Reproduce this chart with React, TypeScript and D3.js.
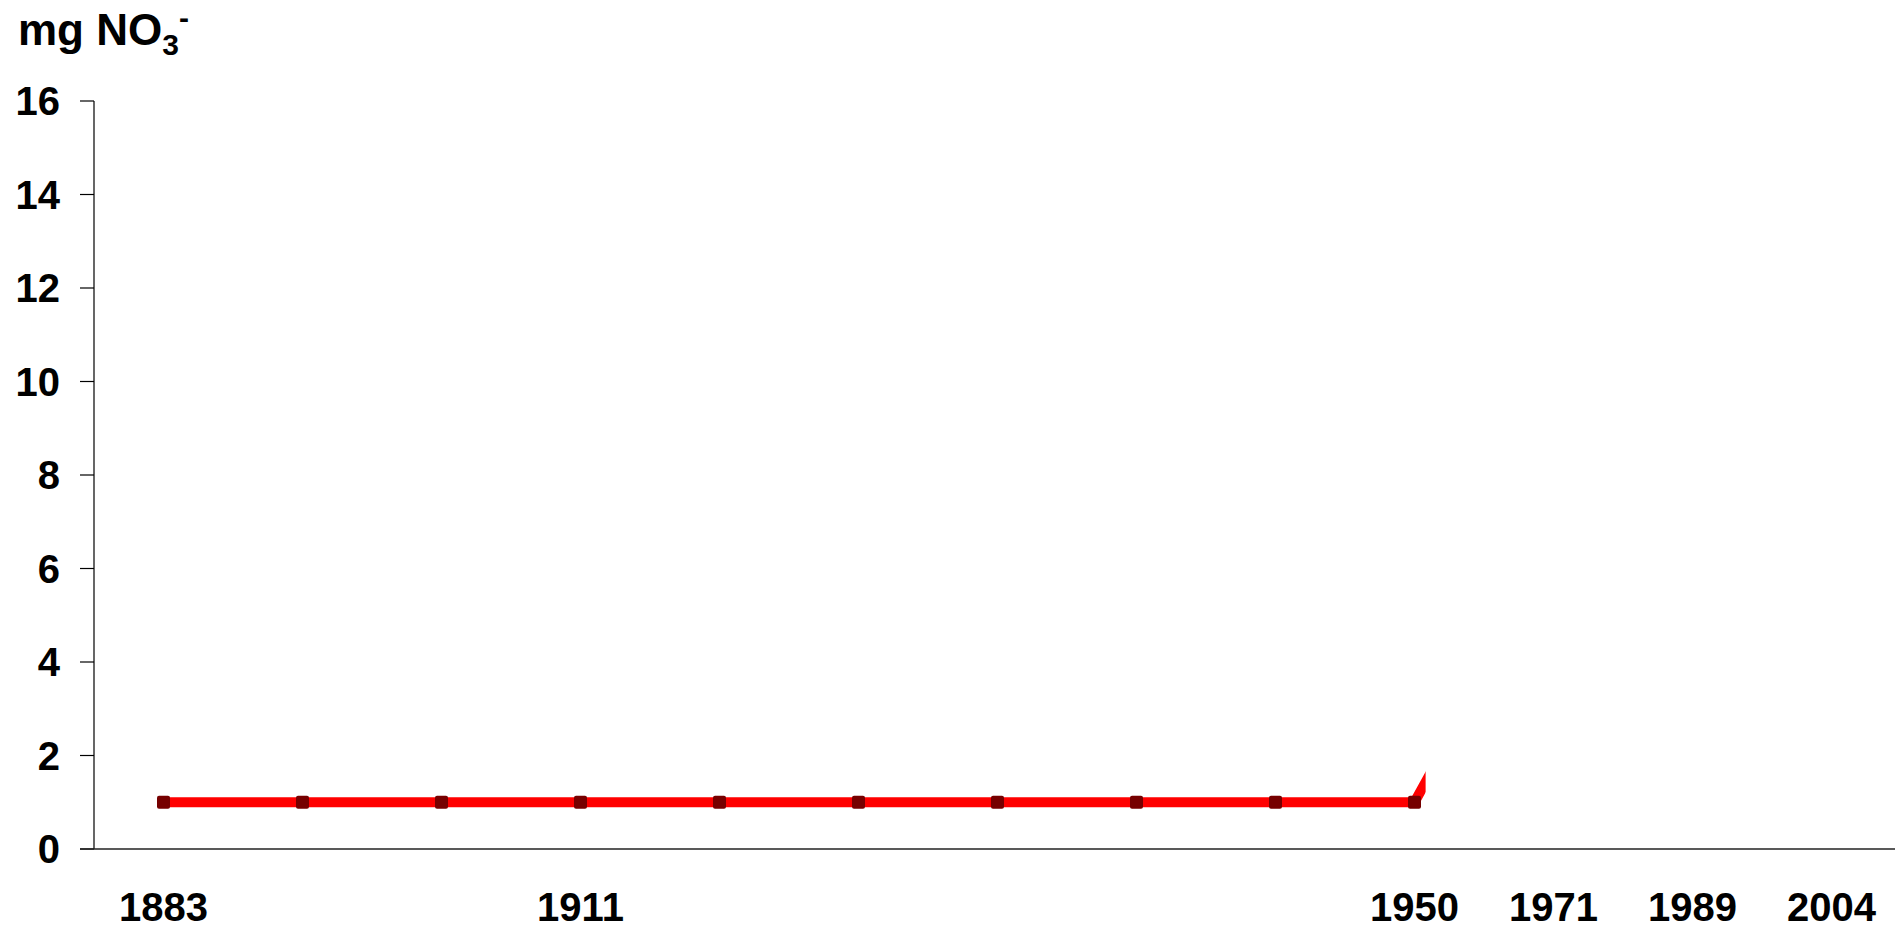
import React from 'react';
import * as d3 from 'd3';

// x categories (blank = unlabelled category)
const categoryLabels = ['1883', '', '', '1911', '', '', '', '', '', '1950', '1971', '1989', '2004'];
// mg NO3- per category; last value is only the start of the next segment
const nitrateValues = [1, 1, 1, 1, 1, 1, 1, 1, 1, 1, 6.4];
const shownPoints = 10;
const yTicks = [0, 2, 4, 6, 8, 10, 12, 14, 16];

const width = 1895;
const height = 930;
const margin = { top: 101, right: -6, bottom: 81, left: 94 };

const App: React.FC = () => {
  const x = d3.scaleBand<number>()
    .domain(d3.range(categoryLabels.length))
    .range([margin.left, width - margin.right]);
  const y = d3.scaleLinear().domain([0, 16]).range([height - margin.bottom, margin.top]);
  const cx = (i: number) => (x(i) ?? 0) + x.bandwidth() / 2;

  const line = d3.line<number>()
    .x((_, i) => cx(i))
    .y(d => y(d));

  // the line is cut shortly after the last shown point
  const clipRight = cx(shownPoints - 1) + x.bandwidth() * 0.08;
  const font = '"Liberation Sans", Arial, sans-serif';

  return (
    <svg width={width} height={height}
      style={{ position: 'fixed', left: 0, top: 0, background: '#fff' }}
      fontFamily={font} fontWeight="bold">
      <defs>
        <clipPath id="reveal">
          <rect x={0} y={0} width={clipRight} height={height} />
        </clipPath>
      </defs>

      {/* y axis title */}
      <text x={18} y={45} fontSize={44}>
        mg NO<tspan fontSize={30} dy={10}>3</tspan><tspan fontSize={30} dy={-27}>-</tspan>
      </text>

      {/* y axis */}
      <line x1={margin.left} x2={margin.left} y1={y(16)} y2={y(0)} stroke="#000" strokeWidth={1.2} />
      {yTicks.map(t => (
        <g key={t}>
          <line x1={margin.left - 14} x2={margin.left} y1={y(t)} y2={y(t)} stroke="#000" strokeWidth={1.2} />
          <text x={60} y={y(t)} dy="0.36em" textAnchor="end" fontSize={40}>{t}</text>
        </g>
      ))}

      {/* x axis */}
      <line x1={margin.left - 14} x2={width} y1={y(0)} y2={y(0)} stroke="#222" strokeWidth={1.5} />
      {categoryLabels.map((lab, i) => lab ? (
        <text key={i} x={cx(i)} y={921} textAnchor="middle" fontSize={40}>{lab}</text>
      ) : null)}

      {/* series */}
      <path d={line(nitrateValues) ?? ''} fill="none" stroke="#ff0000" strokeWidth={10}
        strokeLinejoin="miter" clipPath="url(#reveal)" />
      {nitrateValues.slice(0, shownPoints).map((v, i) => (
        <rect key={i} x={cx(i) - 6.5} y={y(v) - 6.5} width={13} height={13} rx={2}
          fill="#760000" />
      ))}
    </svg>
  );
};

export default App;
